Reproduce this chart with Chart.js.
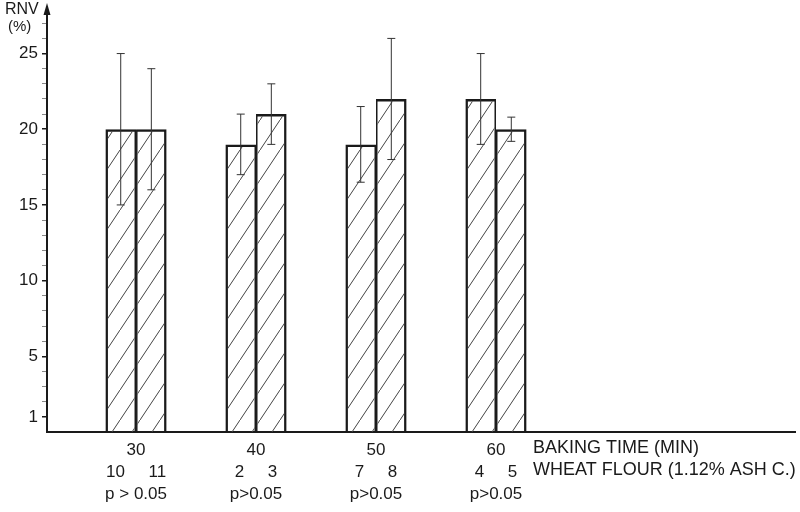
<!DOCTYPE html>
<html>
<head>
<meta charset="utf-8">
<script src="https://cdn.jsdelivr.net/npm/chart.js@4"></script>
<style>
html, body { margin: 0; padding: 0; background: #fff; }
#wrap { width: 800px; height: 512px; }
</style>
</head>
<body>
<div id="wrap"><canvas id="bar_chart"></canvas></div>
<script>
// baking time groups and flour sample numbers
var bakingTimes = [30, 40, 50, 60];
var flourLeft = ['10', '2', '7', '4'];
var flourRight = ['11', '3', '8', '5'];
var pValues = ['p > 0.05', 'p>0.05', 'p>0.05', 'p>0.05'];

// RNV (%) and error bar ends
var rnvLeft = [20, 19, 19, 22];
var rnvRight = [20, 21, 22, 20];
var lowLeft = [15, 17, 16.5, 19];
var highLeft = [25, 21, 21.5, 25];
var lowRight = [16, 19, 18, 19.2];
var highRight = [24, 23, 26, 20.8];

var yLabels = [1, 5, 10, 15, 20, 25];

var FONT = '"Liberation Sans", Arial, sans-serif';
var INK = '#1a1a1a';

function hatch() {
    var c = document.createElement('canvas');
    c.width = 20; c.height = 30;
    var g = c.getContext('2d');
    g.strokeStyle = '#444';
    g.lineWidth = 1;
    g.beginPath();
    g.moveTo(-2, 33); g.lineTo(22, -3);
    g.stroke();
    return g.createPattern(c, 'repeat');
}

function points(vals) {
    return bakingTimes.map(function (t, i) { return { x: t, y: vals[i] }; });
}

var errorBars = {
    id: 'errorBars',
    afterDatasetsDraw: function (chart) {
        var ctx = chart.ctx, y = chart.scales.y;
        [[lowLeft, highLeft], [lowRight, highRight]].forEach(function (err, d) {
            chart.getDatasetMeta(d).data.forEach(function (bar, i) {
                var top = y.getPixelForValue(err[1][i]);
                var bot = y.getPixelForValue(err[0][i]);
                ctx.save();
                ctx.strokeStyle = '#333';
                ctx.lineWidth = 1;
                ctx.beginPath();
                ctx.moveTo(bar.x, top); ctx.lineTo(bar.x, bot);
                ctx.moveTo(bar.x - 4, top); ctx.lineTo(bar.x + 4, top);
                ctx.moveTo(bar.x - 4, bot); ctx.lineTo(bar.x + 4, bot);
                ctx.stroke();
                ctx.restore();
            });
        });
    }
};

var decor = {
    id: 'decor',
    afterDraw: function (chart) {
        var ctx = chart.ctx, a = chart.chartArea;
        ctx.save();
        // arrow on y axis
        ctx.fillStyle = INK;
        ctx.beginPath();
        ctx.moveTo(a.left, 3);
        ctx.lineTo(a.left - 3.5, 15);
        ctx.lineTo(a.left + 3.5, 15);
        ctx.closePath();
        ctx.fill();
        ctx.fillRect(a.left - 1, 12, 2, 4);
        // axis title
        ctx.font = '16px ' + FONT;
        ctx.textBaseline = 'middle';
        ctx.textAlign = 'left';
        ctx.fillText('RNV', 5, 10);
        ctx.font = '15px ' + FONT;
        ctx.fillText('(%)', 8, 27);
        // category titles on the right
        ctx.font = '18px ' + FONT;
        ctx.fillText('BAKING TIME (MIN)', 533, 448);
        ctx.fillText('WHEAT FLOUR (1.12% ASH C.)', 533, 470);
        ctx.restore();
    }
};

new Chart(document.getElementById('bar_chart').getContext('2d'), {
    type: 'bar',
    data: {
        datasets: [{
            label: 'A',
            data: points(rnvLeft),
            backgroundColor: hatch(),
            borderColor: INK,
            borderWidth: { top: 2.5, left: 2.5, right: 1.5, bottom: 0 },
            borderSkipped: 'bottom'
        }, {
            label: 'B',
            data: points(rnvRight),
            backgroundColor: hatch(),
            borderColor: INK,
            borderWidth: { top: 2.5, left: 1.5, right: 2.5, bottom: 0 },
            borderSkipped: 'bottom'
        }]
    },
    options: {
        responsive: true,
        maintainAspectRatio: false,
        animation: false,
        categoryPercentage: 0.51,
        barPercentage: 1.0,
        layout: { padding: { top: 12, right: 5, left: 0, bottom: 0 } },
        plugins: { legend: { display: false }, tooltip: { enabled: false } },
        scales: {
            x: {
                type: 'linear',
                offset: false,
                min: 22.58,
                max: 84.92,
                afterBuildTicks: function (scale) {
                    scale.ticks = bakingTimes.map(function (t) { return { value: t }; });
                },
                afterFit: function (scale) { scale.height = 80; },
                grid: { display: false, drawTicks: false, offset: false },
                border: { display: true, color: INK, width: 2 },
                ticks: {
                    autoSkip: false,
                    maxRotation: 0,
                    padding: 7,
                    color: INK,
                    font: { family: FONT, size: 17, lineHeight: 1.3 },
                    callback: function (v) {
                        var i = bakingTimes.indexOf(v);
                        if (i < 0) return '';
                        return [String(v), flourLeft[i] + '     ' + flourRight[i], pValues[i]];
                    }
                }
            },
            y: {
                min: 0,
                max: 27.6,
                afterBuildTicks: function (scale) {
                    var t = [];
                    for (var v = 1; v <= 27; v++) t.push({ value: v });
                    scale.ticks = t;
                },
                afterFit: function (scale) { scale.width = 47; },
                grid: {
                    drawOnChartArea: false,
                    tickLength: 5,
                    color: function (c) { return c.tick && yLabels.indexOf(c.tick.value) >= 0 ? INK : '#888'; },
                    lineWidth: function (c) { return c.tick && yLabels.indexOf(c.tick.value) >= 0 ? 1.5 : 1; }
                },
                border: { display: true, color: INK, width: 2 },
                ticks: {
                    autoSkip: false,
                    padding: 4,
                    color: INK,
                    font: { family: FONT, size: 17 },
                    callback: function (v) { return yLabels.indexOf(v) >= 0 ? String(v) : ''; }
                }
            }
        }
    },
    plugins: [errorBars, decor]
});
</script>
</body>
</html>
